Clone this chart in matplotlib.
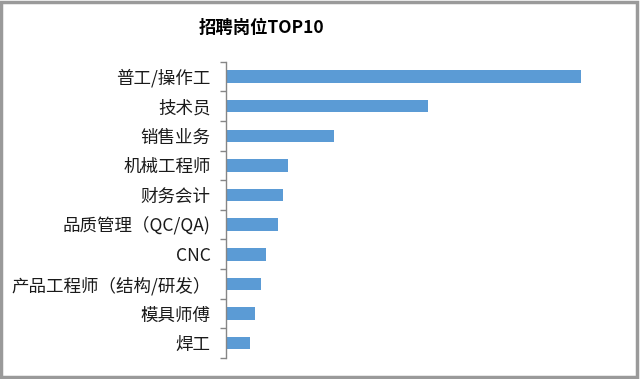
import numpy as np
import matplotlib.pyplot as plt
from matplotlib.patches import Rectangle

plt.rcParams['font.family'] = ['Noto Sans CJK SC', 'DejaVu Sans']

# 招聘岗位 TOP10 (数值按图中条长估读)
categories = ['普工/操作工', '技术员', '销售业务', '机械工程师', '财务会计',
              '品质管理（QC/QA)', 'CNC', '产品工程师（结构/研发）', '模具师傅', '焊工']
values = [355, 202, 108, 62, 57, 52, 40, 35, 29, 24]

fig = plt.figure(figsize=(6.4, 3.79), dpi=100)
ax = fig.add_axes([226 / 640, 21 / 379, 394 / 640, 296.3 / 379])

y = np.arange(len(categories))
ax.barh(y, values, height=0.42, color='#5B9BD5')

ax.set_xlim(0, 394)
ax.set_ylim(len(categories) - 0.5, -0.5)

ax.set_yticks(y)
ax.set_yticklabels(categories, fontsize=12.6, color='#1a1a1a')
ax.tick_params(axis='y', which='major', length=0, pad=11)
ax.set_yticks(np.arange(-0.5, len(categories), 1), minor=True)
ax.tick_params(axis='y', which='minor', length=4, width=1, color='#868686', direction='out')
ax.set_xticks([])

for s in ['top', 'right', 'bottom']:
    ax.spines[s].set_visible(False)
ax.spines['left'].set_color('#868686')
ax.spines['left'].set_linewidth(1)

fig.text(261 / 640, 1 - 28 / 379, '招聘岗位TOP10', ha='center', va='center',
         fontsize=12.5, fontweight='bold', color='#000000')

# 外框
fig.patches.append(Rectangle((0.002, 0.004), 0.994, 0.992, transform=fig.transFigure,
                             fill=False, edgecolor='#9a9a9a', linewidth=2.5))

fig.savefig('out.png', dpi=100)
